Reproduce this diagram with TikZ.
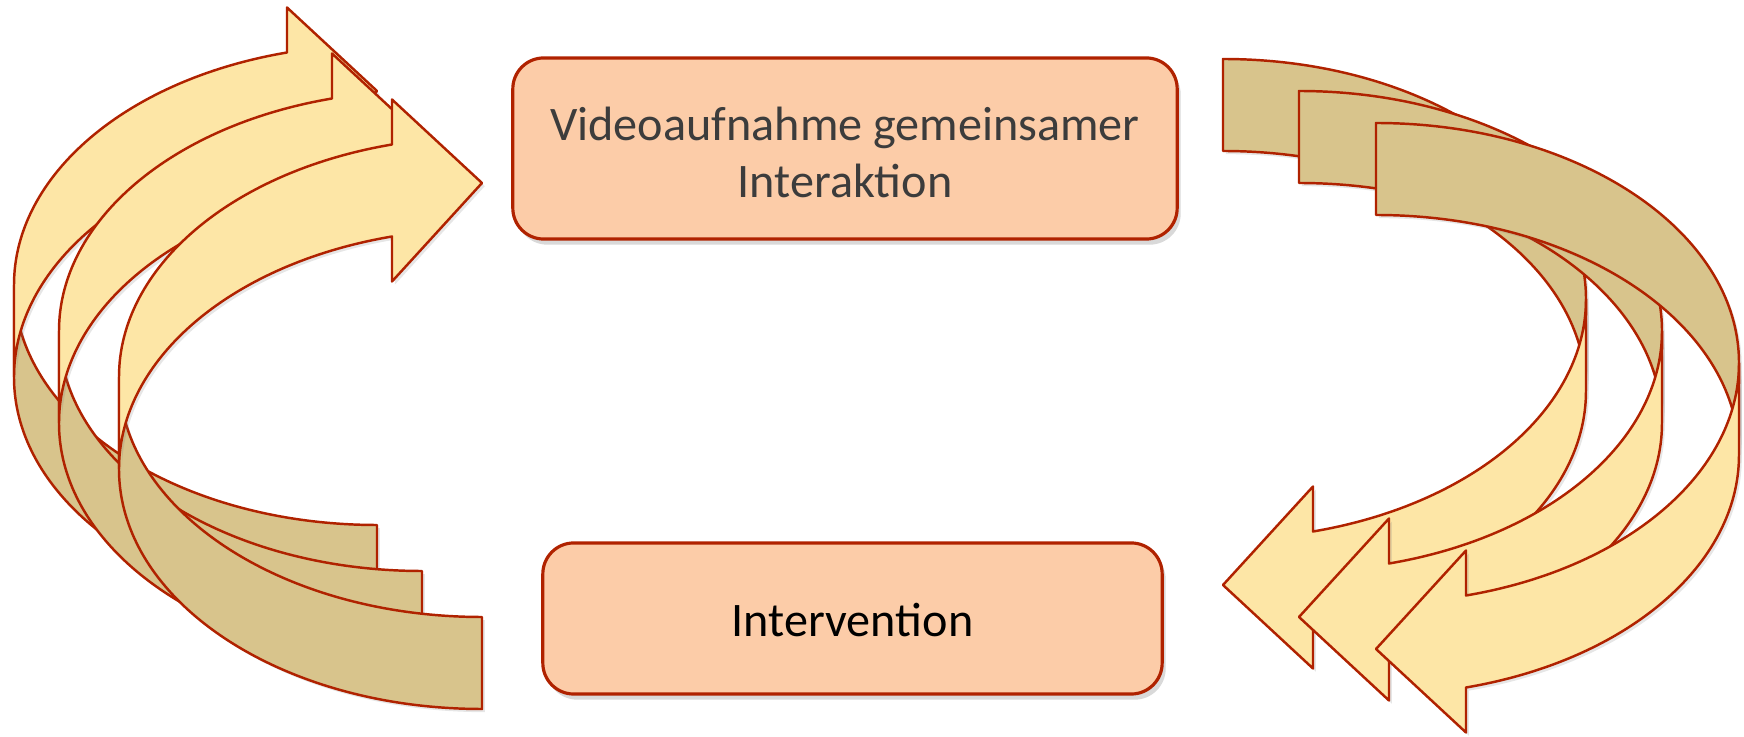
\documentclass[tikz,border=0pt]{standalone}
\usepackage{fontspec}
\setmainfont{Carlito}
\usetikzlibrary{shadows}

\definecolor{arrowlight}{RGB}{253,230,166}
\definecolor{arrowdark}{RGB}{216,196,140}
\definecolor{boxfill}{RGB}{252,204,168}
\definecolor{rimred}{RGB}{176,34,0}
\definecolor{textgrey}{RGB}{60,60,60}

\begin{document}
\begin{tikzpicture}[x=0.01cm, y=-0.01cm]
        \tikzset{
            band/.style={draw=rimred, line width=0.7pt, line join=round,
                drop shadow={shadow xshift=0.8pt, shadow yshift=-0.9pt, opacity=0.2}},
            front/.style={band, fill=arrowlight},
            back/.style={band, fill=arrowdark},
            stage/.style={draw=rimred, line width=0.9pt, fill=boxfill, rounded corners=8.8pt,
                inner sep=0pt, align=center, font=\fontsize{13.7}{16.2}\selectfont,
                drop shadow={shadow xshift=1pt, shadow yshift=-1.6pt, opacity=0.3}}
        }
        \pgfmathsetmacro{\rx}{363}
        \pgfmathsetmacro{\ry}{240}
        \pgfmathsetmacro{\band}{92}
        \pgfmathsetmacro{\headlen}{90}
        \pgfmathsetmacro{\wing}{45}
        \pgfmathsetmacro{\turn}{acos(\headlen/\rx)}
        \pgfmathsetmacro{\rise}{\ry*sin(\turn)}
        \useasboundingbox (0,0) rectangle (1744,737);
        % left group, heads to the right
        \foreach \r/\cq in {377/285, 422/331, 482/377} {
            \pgfmathsetmacro{\cp}{\cq+\band}
            \pgfmathsetmacro{\xh}{\r-\headlen}
            \filldraw[back] (\r,\cp+\ry) arc[start angle=90, end angle=180, x radius=\rx, y radius=\ry]
                -- (\r-\rx,\cq) arc[start angle=180, end angle=90, x radius=\rx, y radius=\ry] -- cycle;
            \filldraw[front] (\r-\rx,\cq) arc[start angle=180, end angle=180+\turn, x radius=\rx, y radius=\ry]
                -- (\xh,\cq-\rise-\wing) -- (\r,\cp-\ry-\band/2) -- (\xh,\cp-\rise+\wing) -- (\xh,\cp-\rise)
                arc[start angle=180+\turn, end angle=180, x radius=\rx, y radius=\ry] -- cycle;
        }
        % right group, heads to the left
        \foreach \c/\cp in {1223/299, 1299/331, 1376/363} {
            \pgfmathsetmacro{\cq}{\cp+\band}
            \pgfmathsetmacro{\xh}{\c+\headlen}
            \filldraw[back] (\c,\cp-\ry) arc[start angle=270, end angle=360, x radius=\rx, y radius=\ry]
                -- (\c+\rx,\cq) arc[start angle=360, end angle=270, x radius=\rx, y radius=\ry] -- cycle;
            \filldraw[front] (\c+\rx,\cq) arc[start angle=0, end angle=\turn, x radius=\rx, y radius=\ry]
                -- (\xh,\cq+\rise+\wing) -- (\c,\cp+\ry+\band/2) -- (\xh,\cp+\rise-\wing) -- (\xh,\cp+\rise)
                arc[start angle=\turn, end angle=0, x radius=\rx, y radius=\ry] -- cycle;
        }
        \node[stage, text=textgrey, minimum width=6.64cm, minimum height=1.81cm,
            text height=0.97cm, text depth=0cm] (video) at (845,148.5)
            {Videoaufnahme gemeinsamer\\Interaktion};
        \node[stage, text=black, minimum width=6.19cm, minimum height=1.51cm,
            text height=0.35cm, text depth=0cm] (interv) at (852.5,618.5)
            {Intervention};
    \end{tikzpicture}
\end{document}
